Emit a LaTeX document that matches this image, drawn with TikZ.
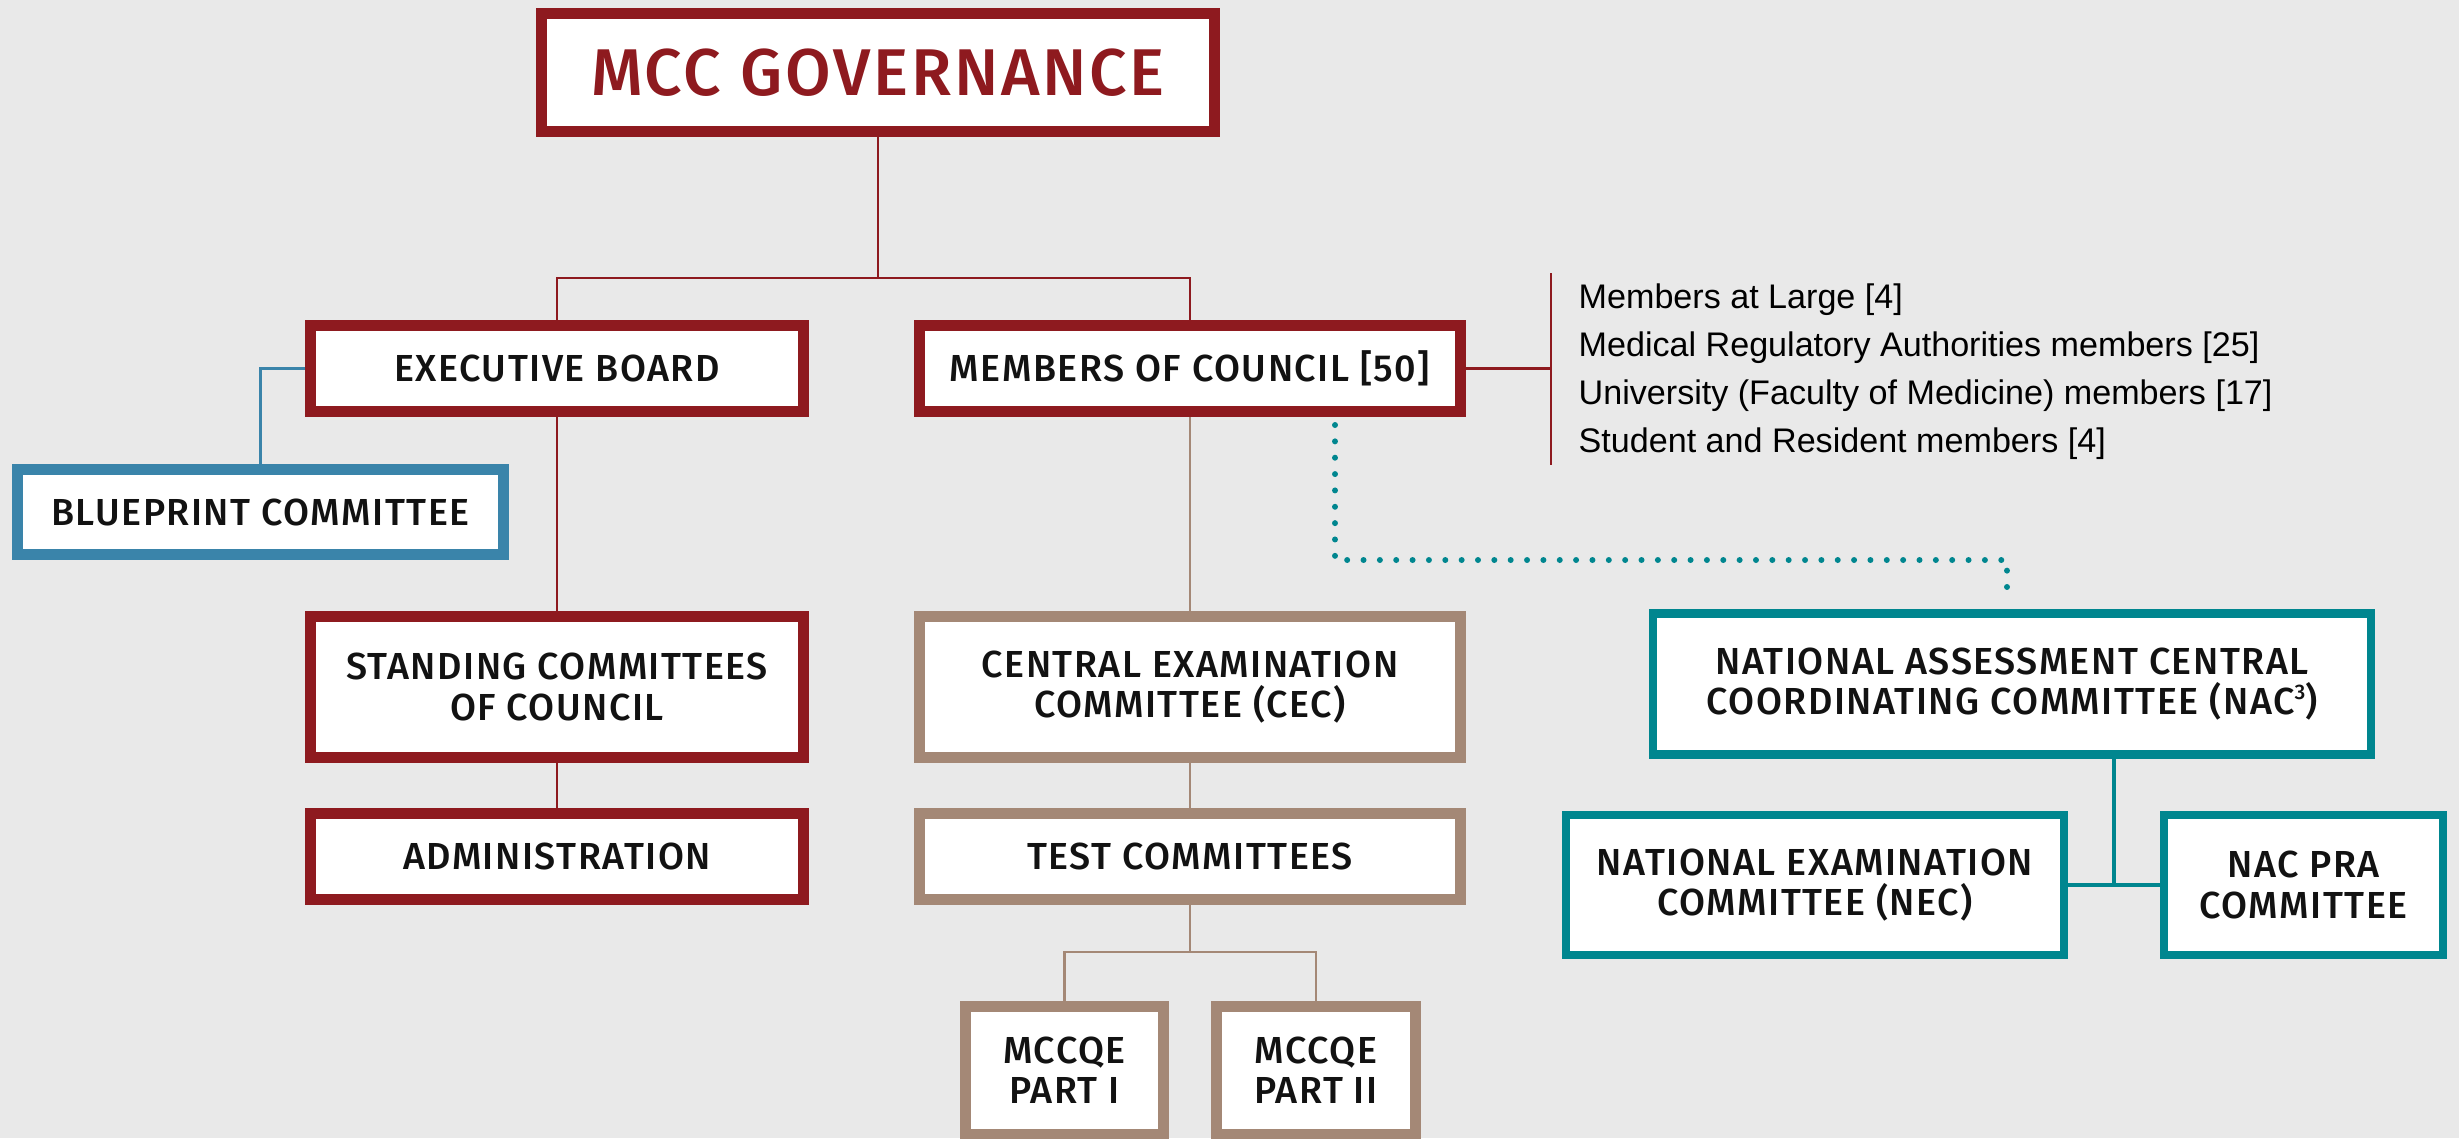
\documentclass[tikz,border=0pt]{standalone}
\usepackage{fontspec}
\IfFontExistsTF{Fira Sans Medium}
  {\newfontfamily\boxfont{Fira Sans Medium}[LetterSpace=4]}
  {\newfontfamily\boxfont{Fira Sans}[LetterSpace=4]}
\newfontfamily\listfont{Liberation Sans}
\definecolor{mccred}{RGB}{142,26,31}
\definecolor{mcctan}{RGB}{164,136,118}
\definecolor{mccteal}{RGB}{0,134,143}
\definecolor{mccblue}{RGB}{58,132,170}
\definecolor{mccbg}{RGB}{233,233,233}
\newcommand{\supthree}{\raisebox{0.75ex}{\fontsize{6}{6}\selectfont 3}}

\begin{document}
\begin{tikzpicture}[
    x=0.01cm, y=-0.01cm,
    box/.style={rectangle, draw, fill=white, line width=0.11cm, inner sep=0pt, align=center,
        text=black!93, font=\boxfont\fontsize{10.7}{11.4}\selectfont},
    redbox/.style={box, draw=mccred},
    tanbox/.style={box, draw=mcctan},
    bluebox/.style={box, draw=mccblue},
    tealbox/.style={box, draw=mccteal, line width=0.085cm},
    redline/.style={draw=mccred, line width=0.6pt},
    tanline/.style={draw=mcctan, line width=0.7pt},
    blueline/.style={draw=mccblue, line width=0.7pt},
    tealline/.style={draw=mccteal, line width=1pt},
    dotline/.style={draw=mccteal, line width=1.7pt, line cap=round, dash pattern=on 0pt off 4.65pt}
]

% Background
\fill[mccbg] (0,0) rectangle (2459,1138);
\useasboundingbox (0,0) rectangle (2459,1138);

% Top of the tree
\node[redbox, minimum width=6.73cm, minimum height=1.18cm, text=mccred,
      font=\boxfont\fontsize{18.8}{22}\selectfont] (gov) at (878,72.5) {MCC GOVERNANCE};

% Council side (red)
\node[redbox, minimum width=4.93cm, minimum height=0.86cm] (exec) at (557,368.5) {EXECUTIVE BOARD};
\node[redbox, minimum width=5.41cm, minimum height=0.86cm] (council) at (1190,368.5) {MEMBERS OF COUNCIL [50]};
\node[bluebox, minimum width=4.86cm, minimum height=0.85cm] (blueprint) at (260.5,512) {BLUEPRINT COMMITTEE};
\node[redbox, minimum width=4.93cm, minimum height=1.41cm] (standing) at (557,687) {STANDING COMMITTEES\\OF COUNCIL};
\node[redbox, minimum width=4.93cm, minimum height=0.86cm] (admin) at (557,856.5) {ADMINISTRATION};

% Examination side (tan)
\node[tanbox, minimum width=5.41cm, minimum height=1.41cm] (cec) at (1190,687) {CENTRAL EXAMINATION\\COMMITTEE (CEC)};
\node[tanbox, minimum width=5.41cm, minimum height=0.86cm] (test) at (1190,856.5) {TEST COMMITTEES};
\node[tanbox, minimum width=1.98cm, minimum height=1.28cm] (part1) at (1064.5,1070.5) {MCCQE\\PART I};
\node[tanbox, minimum width=1.99cm, minimum height=1.28cm] (part2) at (1316,1070.5) {MCCQE\\PART II};

% National assessment side (teal)
\node[tealbox, minimum width=7.175cm, minimum height=1.405cm] (nac) at (2012,684)
    {NATIONAL ASSESSMENT CENTRAL\\COORDINATING COMMITTEE (NAC\supthree)};
\node[tealbox, minimum width=4.975cm, minimum height=1.395cm] (nec) at (1815,885) {NATIONAL EXAMINATION\\COMMITTEE (NEC)};
\node[tealbox, minimum width=2.785cm, minimum height=1.395cm] (pra) at (2303.5,885) {NAC PRA\\COMMITTEE};

% Members list
\node[anchor=west, inner sep=0pt, align=left, font=\listfont\fontsize{9.7}{13.66}\selectfont, text=black] (members) at (1578,372)
    {Members at Large [4]\\
     Medical Regulatory Authorities members [25]\\
     University (Faculty of Medicine) members [17]\\
     Student and Resident members [4]};

% Turning points
\coordinate (split) at (878,278);
\coordinate (fork) at (1190,952);
\coordinate (listtop) at (1551,273);
\coordinate (listbot) at (1551,465);
\coordinate (dotstart) at (1335,425);
\coordinate (dotturn) at (2007,560);
\coordinate (dotend) at (2007,600);
\coordinate (nacfork) at (2114,883);

% Connectors
\draw[redline] (gov) -- (split);
\draw[redline] (exec.north) |- (split) -| (council.north);
\draw[blueline] (exec.west) -| (blueprint.north);
\draw[redline] (exec) -- (standing);
\draw[redline] (standing) -- (admin);
\draw[redline] (council.east) -- (council.east -| listtop);
\draw[redline] (listtop) -- (listbot);
\draw[tanline] (council) -- (cec);
\draw[tanline] (cec) -- (test);
\draw[tanline] (test) -- (fork);
\draw[tanline] (part1.north) |- (fork) -| (part2.north);
\draw[dotline] (dotstart) |- (dotturn) -- (dotend);
\draw[tealline] (nac.south -| nacfork) -- (nacfork);
\draw[tealline] (nec.east) -- (pra.west);

\end{tikzpicture}
\end{document}
